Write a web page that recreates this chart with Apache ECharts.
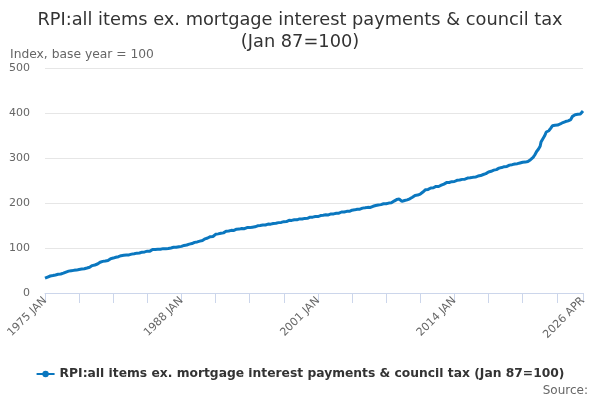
<!DOCTYPE html>
<html>
<head>
<meta charset="utf-8">
<script src="https://cdn.jsdelivr.net/npm/echarts@6/dist/echarts.min.js"></script>
<style>html,body{margin:0;padding:0;background:#fff}#c{width:600px;height:400px}</style>
</head>
<body>
<div id="c"></div>
<script>
const titleText = 'RPI:all items ex. mortgage interest payments & council tax\n(Jan 87=100)';
const seriesName = 'RPI:all items ex. mortgage interest payments & council tax (Jan 87=100)';
const yAxisTitle = 'Index, base year = 100';
const sourceText = 'Source:';
const months = ['JAN','FEB','MAR','APR','MAY','JUN','JUL','AUG','SEP','OCT','NOV','DEC'];
const firstYear = 1975, lastYear = 2026, lastMonthCount = 4;
const yTicks = [0, 100, 200, 300, 400, 500];

// Monthly index values, Jan 1975 .. Apr 2026
const values1975to1984 = [
  33.0,33.5,34.1,35.4,36.8,37.5,37.8,38.0,38.3,38.8,39.2,39.6,
  40.1,40.7,40.9,41.6,42.0,42.2,42.3,42.9,43.4,44.1,44.7,45.4,
  46.5,46.9,47.5,48.6,49.0,49.5,49.6,49.8,50.1,50.3,50.5,50.9,
  50.9,51.2,51.5,52.3,52.6,53.0,53.2,53.5,53.7,54.0,54.3,54.9,
  55.5,56.0,56.3,57.2,57.5,58.5,60.9,61.2,61.8,62.3,62.8,63.1,
  64.4,65.3,66.1,68.4,69.0,69.8,70.3,70.5,70.9,71.3,71.9,72.3,
  72.4,73.0,74.2,76.3,76.8,77.3,77.6,78.2,78.6,79.3,80.1,80.6,
  80.7,80.8,81.4,83.0,83.6,83.9,83.9,83.9,83.9,84.4,84.8,84.6,
  84.7,85.1,85.2,86.4,86.7,86.9,87.4,87.8,88.3,88.6,88.9,89.1,
  89.0,89.4,89.7,90.8,91.2,91.4,91.3,92.1,92.4,93.0,93.3,93.2
];
const values1985to1994 = [
  93.0,93.7,94.6,96.6,97.0,97.2,96.9,97.2,97.0,97.2,97.4,97.5,
  97.4,97.7,97.7,98.6,98.6,98.5,98.1,98.3,98.7,98.8,99.5,99.7,
  100.0,100.4,100.6,101.5,101.7,101.8,101.8,102.1,102.5,102.9,103.4,103.5,
  103.6,104.1,104.5,105.7,106.1,106.4,106.6,107.3,107.8,108.6,109.0,109.3,
  109.9,110.6,111.1,112.5,113.0,113.3,113.5,113.8,114.4,115.2,115.8,116.0,
  116.8,117.4,118.2,120.4,121.4,122.0,122.2,123.2,124.3,125.1,124.9,124.8,
  125.6,126.5,127.2,130.4,131.0,131.5,131.4,131.8,132.4,132.8,133.2,133.2,
  133.6,134.4,135.0,137.2,137.8,138.0,137.8,138.0,138.6,139.2,139.4,139.1,
  139.0,139.8,140.3,141.7,142.2,142.3,142.0,142.6,143.2,143.4,143.4,143.4,
  142.8,143.6,143.9,145.3,145.7,145.8,145.3,145.9,146.2,146.3,146.5,147.0
];
const values1995to2004 = [
  147.0,147.9,148.3,149.4,149.9,150.4,149.8,150.4,151.2,150.9,151.0,151.6,
  151.2,152.0,152.4,153.2,153.6,153.6,153.0,153.7,154.4,154.6,154.7,155.2,
  155.0,155.6,155.9,156.4,156.9,157.3,156.9,157.6,158.3,158.6,158.7,159.1,
  158.8,159.6,160.0,161.4,162.0,162.0,161.3,161.9,162.6,162.9,163.0,163.4,
  162.6,163.3,163.8,164.6,165.0,165.1,164.4,164.9,165.6,165.8,165.9,166.4,
  165.9,166.8,167.4,168.4,168.9,169.2,168.6,168.6,169.7,169.8,170.2,170.3,
  169.8,170.6,171.1,172.0,173.2,173.6,172.8,173.5,173.8,173.7,173.5,173.9,
  173.6,174.2,174.7,175.8,176.3,176.3,175.8,176.4,177.0,177.3,177.4,177.8,
  177.4,178.3,178.9,180.0,180.3,180.2,179.9,180.5,181.2,181.5,181.5,182.1,
  181.6,182.5,183.1,184.1,184.9,185.3,184.8,185.2,185.9,186.2,186.5,187.1
];
const values2005to2014 = [
  186.3,187.1,187.7,188.6,189.2,189.5,189.3,189.7,190.2,190.3,190.3,190.6,
  190.1,190.8,191.3,192.7,193.8,194.4,194.3,194.9,195.4,195.7,196.2,196.8,
  196.4,197.0,197.6,198.4,198.7,198.9,198.3,198.8,199.3,199.8,200.3,200.8,
  200.3,201.6,202.4,204.2,205.6,207.2,207.6,208.6,209.2,208.8,207.3,205.2,
  203.6,204.9,205.3,205.6,206.4,207.1,207.0,208.0,208.7,209.3,210.0,211.4,
  213.0,214.6,215.4,216.9,217.6,218.0,217.6,218.6,219.1,219.9,220.6,221.7,
  224.3,226.0,227.2,229.6,230.4,230.6,230.2,231.4,232.7,233.3,233.7,234.4,
  233.8,234.9,235.6,236.9,237.0,236.6,236.7,237.7,238.5,239.6,239.8,240.6,
  242.0,243.5,244.3,245.3,245.8,245.6,245.7,246.5,247.3,247.4,247.5,248.2,
  247.8,249.1,249.7,250.5,250.9,251.4,251.0,251.8,252.3,252.5,252.2,252.4
];
const values2015to2026 = [
  253.0,254.0,254.6,255.3,255.8,256.1,255.9,256.6,256.8,257.0,257.2,257.6,
  257.5,258.4,259.0,259.8,260.3,260.8,261.0,262.1,262.6,263.3,263.9,265.0,
  265.3,266.7,267.5,268.9,269.7,270.2,270.4,271.6,272.4,273.0,273.6,274.6,
  274.2,275.7,276.3,277.5,278.2,278.4,278.7,279.9,280.3,280.8,281.1,281.8,
  281.3,282.4,283.0,284.2,284.9,285.2,285.2,286.6,286.5,286.7,286.8,287.4,
  287.4,288.1,288.4,288.9,289.1,289.5,290.4,290.2,290.5,290.9,290.8,291.6,
  292.2,293.0,293.8,296.2,298.4,300.2,301.4,304.4,307.2,311.2,314.4,317.4,
  319.4,322.6,326.2,335.4,338.6,342.4,345.8,348.8,350.6,357.8,359.6,361.4,
  360.6,363.8,366.0,370.4,371.6,372.4,371.0,372.8,373.4,373.0,373.2,374.4,
  373.8,375.6,376.4,378.2,378.8,379.6,379.4,381.0,381.2,382.0,382.6,383.6,
  383.4,385.4,386.4,392.6,394.0,394.8,396.0,396.8,397.2,397.0,396.8,398.4,
  398.0,400.4,401.8,404.6
];

const values = [].concat(values1975to1984, values1985to1994, values1995to2004, values2005to2014, values2015to2026);
const categories = [];
for (let y = firstYear; y <= lastYear; y++) {
  const n = (y === lastYear) ? lastMonthCount : 12;
  for (let m = 0; m < n; m++) categories.push(y + ' ' + months[m]);
}
const lastIdx = categories.length - 1;

const FONT = 'DejaVu Sans';
const chart = echarts.init(document.getElementById('c'), null, {renderer: 'canvas'});
chart.setOption({
  animation: false,
  textStyle: {fontFamily: FONT},
  title: [
    {text: titleText, left: 'center', top: 4,
     textStyle: {fontFamily: FONT, fontSize: 17.8, fontWeight: 'normal', color: '#333333', lineHeight: 22}},
    {text: yAxisTitle, left: 5, top: 44,
     textStyle: {fontFamily: FONT, fontSize: 12.3, fontWeight: 'normal', color: '#666666'}},
    {text: sourceText, right: 7, bottom: -2,
     textStyle: {fontFamily: FONT, fontSize: 12, fontWeight: 'normal', color: '#666666'}}
  ],
  legend: {
    data: [seriesName], bottom: 15, left: 'center', itemWidth: 18, itemHeight: 8, itemGap: 6,
    textStyle: {fontFamily: FONT, fontSize: 12.3, fontWeight: 'bold', color: '#333333'}
  },
  grid: {left: 45, right: 17, top: 68, bottom: 107, containLabel: false},
  xAxis: {
    type: 'category', data: categories, boundaryGap: false,
    axisLine: {lineStyle: {color: '#ccd6eb'}},
    axisTick: {show: true, length: 10, lineStyle: {color: '#ccd6eb'},
      interval: function (i) { return i % 39 === 0 || i === lastIdx; }},
    axisLabel: {rotate: 45, color: '#666666', fontSize: 11, fontFamily: FONT, margin: 6,
      interval: function (i) { return i % 156 === 0 || i === lastIdx; }},
    splitLine: {show: false}
  },
  yAxis: {
    type: 'value', min: yTicks[0], max: yTicks[yTicks.length - 1], interval: 100,
    axisLine: {show: false}, axisTick: {show: false},
    axisLabel: {color: '#666666', fontSize: 11, fontFamily: FONT, margin: 15},
    splitLine: {lineStyle: {color: '#e6e6e6'}}
  },
  series: [{
    name: seriesName, type: 'line', data: values,
    showSymbol: false, symbol: 'circle', symbolSize: 4,
    lineStyle: {color: '#0a77bf', width: 3},
    itemStyle: {color: '#0a77bf'}
  }]
});
</script>
</body>
</html>
